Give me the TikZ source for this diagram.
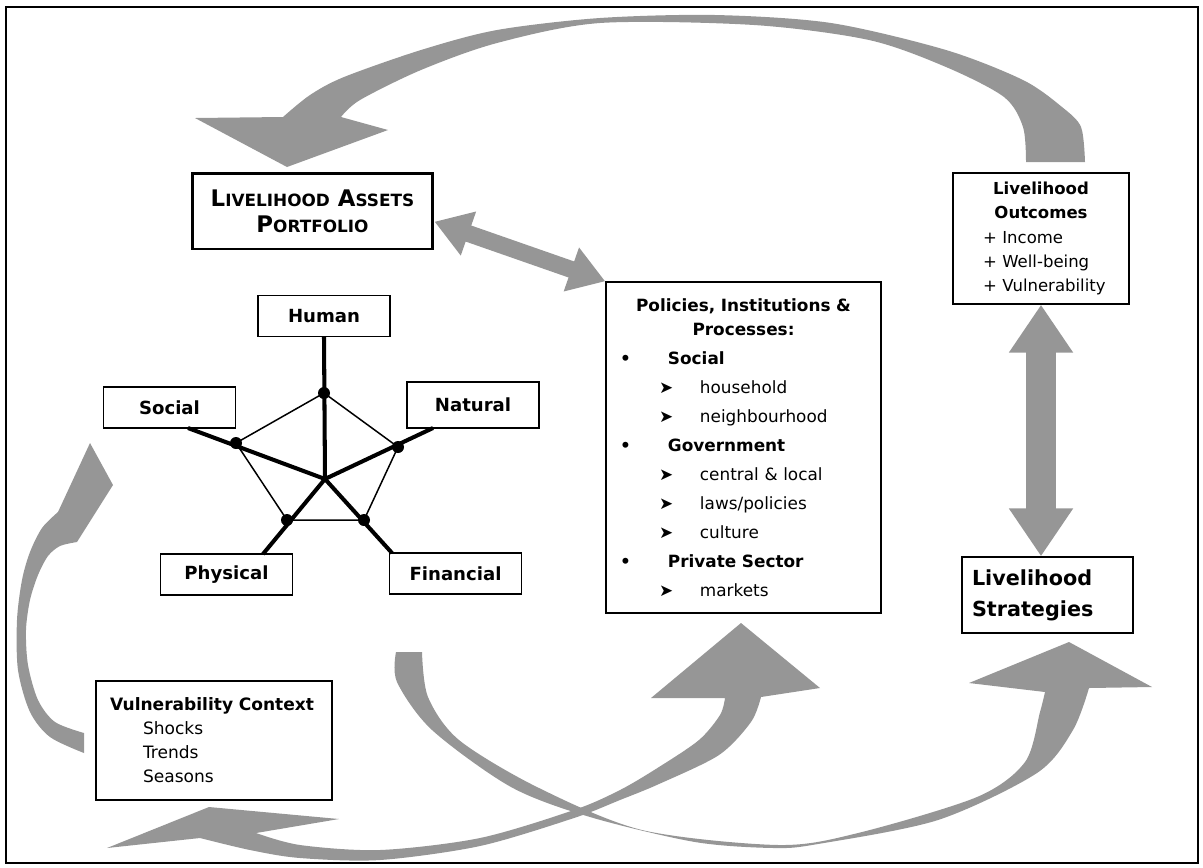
\documentclass[tikz,border=0pt]{standalone}
\usepackage{fontspec}
\setmainfont{DejaVu Sans}
\usepackage{tikz}
\usetikzlibrary{arrows.meta}
\definecolor{arrowgray}{RGB}{150,150,150}
\newcommand{\smallcap}[2]{#1{\fontsize{9.6}{12}\selectfont #2}}

\begin{document}
\begin{tikzpicture}[x=0.02cm, y=-0.02cm, every node/.style={draw, line width=0.8pt, inner ysep=3pt},
  capital/.style={minimum width=2.64cm, minimum height=0.82cm, font=\fontsize{10.3}{12}\selectfont\bfseries},
  spoke/.style={line width=2.3pt},
  rim/.style={line width=0.85pt},
  broad arrow/.style={arrowgray, line width=#1}]

\useasboundingbox (0,0) rectangle (1203,867);
\draw[line width=0.8pt] (6,7) rectangle (1198,863);

\fill[arrowgray] plot[smooth] coordinates {(1085,162) (1081,127) (1062,107) (1023,80) (946,50) (831,23) (715,15) (600,18) (497,30) (421,50) (344,77) (310,95) (283,117)} -- (195,118) -- (287,167) -- (388,130) -- (341,117) -- plot[smooth] coordinates {(341,117) (360,100) (421,70) (497,43) (600,23) (754,25) (869,40) (946,67) (1004,97) (1023,127) (1026,162)} -- cycle;
\fill[arrowgray] plot[smooth] coordinates {(396,652) (397,682) (432,730) (511,787) (590,817) (695,842) (774,848) (818,844) (938,820) (1037,773) (1073,730) (1089,688)} -- (1152,687) -- (1069,642) -- (969,683) -- (1045,692) -- plot[smooth] coordinates {(1045,692) (1040,712) (1025,762) (977,797) (858,833) (779,845) (642,830) (537,787) (459,740) (428,697) (422,652)} -- cycle;
\fill[arrowgray] plot[smooth] coordinates {(256,833) (300,845) (380,850) (480,838) (574,810) (620,790) (659,767) (699,740) (720,715) (725,698)} -- (651,698) -- (741,623) -- (820,688) -- (761,697) -- plot[smooth] coordinates {(761,697) (751,722) (719,755) (659,784) (620,800) (574,818) (480,846) (380,860) (300,858) (250,850) (200,838)} -- (107,848) -- (209,807) -- (339,819) -- cycle;
\fill[arrowgray] plot[smooth] coordinates {(84,753) (50,737) (30,712) (18,670) (17,620) (22,580) (30,552) (42,528) (58,512)} -- (90,443) -- (113,485) -- (77,542) -- plot[smooth] coordinates {(77,542) (60,546) (48,556) (38,575) (30,600) (26,630) (28,665) (38,700) (55,722) (84,733)} -- cycle;

\node[line width=1.7pt, minimum width=4.82cm, minimum height=1.52cm, align=center, font=\fontsize{13}{14.8}\selectfont\bfseries] (livelihoodAssets) at (312.5,211) {\smallcap{L}{IVELIHOOD} \smallcap{A}{SSETS}\\\smallcap{P}{ORTFOLIO}};
\node[text width=3.12cm, inner xsep=0.2cm, minimum height=2.62cm, font=\fontsize{9.4}{13.7}\selectfont] (livelihoodOutcomes) at (1041,238.5) {{\centering\bfseries Livelihood\\Outcomes\par}\raggedright\hspace*{0.4cm}+ Income\\\hspace*{0.4cm}+ Well-being\\\hspace*{0.4cm}+ Vulnerability};
\node[text width=4.94cm, inner xsep=0.28cm, minimum height=6.62cm, font=\fontsize{9.6}{16.5}\selectfont] (policies) at (743.5,447.5) {{\centering\bfseries Policies, Institutions \&\\[-2.8pt]Processes:\par}\raggedright
\makebox[27.3pt][l]{\textbf{\textbullet}}\textbf{Social}\\
\hspace*{22.2pt}\makebox[23.3pt][l]{➤}household\\
\hspace*{22.2pt}\makebox[23.3pt][l]{➤}neighbourhood\\
\makebox[27.3pt][l]{\textbf{\textbullet}}\textbf{Government}\\
\hspace*{22.2pt}\makebox[23.3pt][l]{➤}central \& local\\
\hspace*{22.2pt}\makebox[23.3pt][l]{➤}laws/policies\\
\hspace*{22.2pt}\makebox[23.3pt][l]{➤}culture\\
\makebox[27.3pt][l]{\textbf{\textbullet}}\textbf{Private Sector}\\
\hspace*{22.2pt}\makebox[23.3pt][l]{➤}markets};
\node[text width=3.02cm, inner xsep=0.2cm, minimum height=1.52cm, align=left, font=\fontsize{11.8}{17.6}\selectfont\bfseries] (livelihoodStrategies) at (1047.5,595) {Livelihood\\Strategies};
\node[text width=4.16cm, inner xsep=0.28cm, minimum height=2.38cm, align=left, font=\fontsize{9.7}{13.7}\selectfont] (vulnerabilityContext) at (214,740.5) {\textbf{Vulnerability Context}\\\hspace*{18.8pt}Shocks\\\hspace*{18.8pt}Trends\\\hspace*{18.8pt}Seasons};

\node[capital] (human) at (324,316) {Human};
\node[capital] (social) at (169.5,407.5) {Social};
\node[capital, minimum height=0.92cm] (natural) at (473,405) {Natural};
\node[capital] (physical) at (226.5,574.5) {Physical};
\node[capital] (financial) at (455.5,573.5) {Financial};

\coordinate (hub) at (325,479);
\coordinate (dotHuman) at (324,393);
\coordinate (dotSocial) at (236,443);
\coordinate (dotNatural) at (398,447);
\coordinate (dotPhysical) at (287,520);
\coordinate (dotFinancial) at (364,520);
\coordinate (endSocial) at (188,428);
\coordinate (endNatural) at (433,428);
\coordinate (endPhysical) at (263,554);
\coordinate (endFinancial) at (392,553);

\draw[rim] (dotHuman) -- (dotSocial) -- (dotPhysical) -- (dotFinancial) -- (dotNatural) -- cycle;
\draw[spoke] (hub) -- (human.south);
\draw[spoke] (hub) -- (endSocial);
\draw[spoke] (hub) -- (endNatural);
\draw[spoke] (hub) -- (endPhysical);
\draw[spoke] (hub) -- (endFinancial);
\foreach \corner in {dotHuman, dotSocial, dotNatural, dotPhysical, dotFinancial}
  \fill (\corner) circle [radius=0.12cm];

\draw[broad arrow=0.34cm, {Triangle[length=0.72cm, width=0.88cm]}-{Triangle[length=0.72cm, width=0.88cm]}] (livelihoodAssets.-5) -- (policies.north west);
\draw[broad arrow=0.6cm, {Triangle[length=0.96cm, width=1.22cm]}-{Triangle[length=0.96cm, width=1.22cm]}] (livelihoodOutcomes.south) -- (livelihoodOutcomes.south |- livelihoodStrategies.north);
\end{tikzpicture}
\end{document}
